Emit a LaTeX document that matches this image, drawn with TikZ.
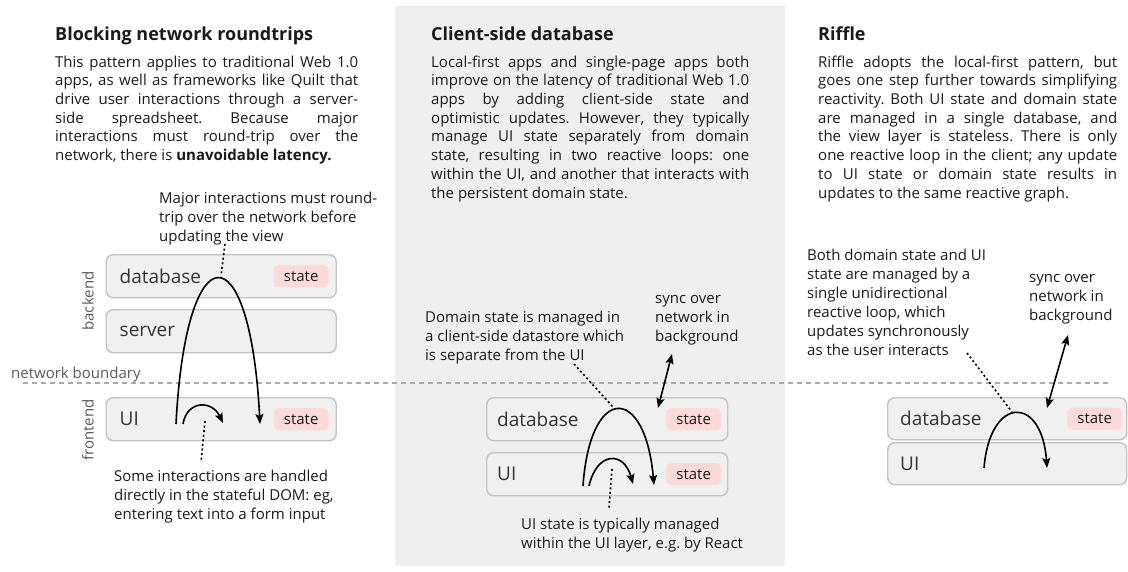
\documentclass[tikz,border=0pt]{standalone}
\usepackage{fontspec}
\setmainfont{Open Sans}
\usetikzlibrary{arrows.meta}
\frenchspacing

\definecolor{panel}{HTML}{EFEFEF}
\definecolor{boxfill}{HTML}{F0F0F0}
\definecolor{boxline}{HTML}{C4C4C4}
\definecolor{badgefill}{HTML}{FDDADA}
\definecolor{labelgray}{HTML}{5A5A5A}
\definecolor{ink}{HTML}{1A1A1A}
\definecolor{boxtextcol}{HTML}{333333}
\definecolor{boundary}{HTML}{AAAAAA}

% one justified line of a paragraph column
\newcommand\jline[2]{\makebox[#1][s]{#2}}

\tikzset{
  heading/.style={font=\bfseries\fontsize{18}{22}\selectfont, text=ink, inner sep=0pt, anchor=north west},
  bodytext/.style={font=\fontsize{15}{18.7}\selectfont, text=ink, inner sep=0pt, anchor=north west, align=left},
  annot/.style={font=\fontsize{15}{19}\selectfont, text=ink, inner sep=0pt, anchor=north west, align=left},
  layerbox/.style={draw=boxline, line width=1.4pt, fill=boxfill, rounded corners=7pt,
    minimum height=43pt, inner sep=0pt, anchor=north west},
  layertext/.style={font=\fontsize{19}{21}\selectfont, text=boxtextcol, inner sep=0pt, anchor=west},
  statebadge/.style={fill=badgefill, rounded corners=5pt, minimum width=55pt, minimum height=22pt,
    inner sep=0pt, font=\fontsize{15}{17}\selectfont, text=ink, anchor=east},
  sidelabel/.style={font=\fontsize{15}{17}\selectfont, text=labelgray, inner sep=0pt, rotate=90},
  flow/.style={line width=1.6pt, draw=black, -{Stealth[length=10pt,width=8pt,inset=2pt]}},
  syncflow/.style={line width=1.6pt, draw=black,
    {Stealth[length=10pt,width=8pt,inset=2pt]}-{Stealth[length=10pt,width=8pt,inset=2pt]}},
  pointer/.style={line width=1.6pt, draw=black, dash pattern=on 2pt off 2.6pt},
}

\begin{document}
\begin{tikzpicture}[x=1pt,y=-1pt]
\useasboundingbox (0,0) rectangle (1128,571);
\fill[white] (0,0) rectangle (1128,571);
% middle column background
\fill[panel] (395,6) rectangle (785,566);

% ---------- headings ----------
\node[heading] (h1) at (55,27) {Blocking network roundtrips};
\node[heading] (h2) at (431,27) {Client-side database};
\node[heading] (h3) at (818,27) {Riffle};

% ---------- column texts ----------
\node[bodytext] (t1) at (55,55.5) {%
\jline{303pt}{This pattern applies to traditional Web 1.0}\\
\jline{303pt}{apps, as well as frameworks like Quilt that}\\
\jline{303pt}{drive user interactions through a server-}\\
\jline{303pt}{side spreadsheet. Because major}\\
\jline{303pt}{interactions must round-trip over the}\\
network, there is \textbf{unavoidable latency.}};

\node[bodytext] (t2) at (431,55.5) {%
\jline{318pt}{Local-first apps and single-page apps both}\\
\jline{318pt}{improve on the latency of traditional Web 1.0}\\
\jline{318pt}{apps by adding client-side state and}\\
\jline{318pt}{optimistic updates. However, they typically}\\
\jline{318pt}{manage UI state separately from domain}\\
\jline{318pt}{state, resulting in two reactive loops: one}\\
\jline{318pt}{within the UI, and another that interacts with}\\
the persistent domain state.};

\node[bodytext] (t3) at (818,55.5) {%
\jline{299pt}{Riffle adopts the local-first pattern, but}\\
\jline{299pt}{goes one step further towards simplifying}\\
\jline{299pt}{reactivity. Both UI state and domain state}\\
\jline{299pt}{are managed in a single database, and}\\
\jline{299pt}{the view layer is stateless. There is only}\\
\jline{299pt}{one reactive loop in the client; any update}\\
\jline{299pt}{to UI state or domain state results in}\\
updates to the same reactive graph.};

% ---------- network boundary ----------
\node[font=\fontsize{15}{17}\selectfont, text=labelgray, inner sep=0pt, anchor=west] (nb) at (11,375) {network boundary};
\coordinate (nbL) at (23,383);
\coordinate (nbR) at (1110,383);
\draw[boundary, line width=1.2pt, dash pattern=on 5pt off 4pt] (nbL) -- (nbR);

% ---------- column 1: blocking roundtrips ----------
\node[sidelabel] (be) at (88,301) {backend};
\node[sidelabel] (fe) at (88,430) {frontend};

\node[layerbox, minimum width=230pt] (db1) at (105.5,254) {};
\node[layertext] (db1t) at ([xshift=14pt]db1.west) {database};
\node[statebadge] (db1s) at ([xshift=-8pt]db1.east) {state};

\node[layerbox, minimum width=230pt] (sv1) at (105.5,309) {};
\node[layertext] (sv1t) at ([xshift=14pt]sv1.west) {server};

\node[layerbox, minimum width=230pt] (ui1) at (105.5,397) {};
\node[layertext] (ui1t) at ([xshift=14pt]ui1.west) {UI};
\node[statebadge] (ui1s) at ([xshift=-8pt]ui1.east) {state};

\coordinate (r1a) at (176,424);
\coordinate (r1b) at (260,424);
\draw[flow] (r1a) .. controls (186,230) and (250,230) .. (r1b);
\coordinate (l1a) at (183,424);
\coordinate (l1b) at (223,423);
\draw[flow] (l1a) .. controls (187,400) and (212,400) .. (l1b);

\node[annot] (a1) at (159,192) {Major interactions must round-\\trip over the network before\\updating the view};
\coordinate (p1a) at (225,244);
\coordinate (p1b) at (221,276);
\draw[pointer] (p1a) -- (p1b);

\coordinate (p2a) at (205,421);
\coordinate (p2b) at (201,462);
\draw[pointer] (p2a) -- (p2b);
\node[annot] (a2) at (114,470) {Some interactions are handled\\directly in the stateful DOM: eg,\\entering text into a form input};

% ---------- column 2: client-side database ----------
\node[layerbox, minimum width=241pt] (db2) at (486,397) {};
\node[layertext] (db2t) at ([xshift=11pt]db2.west) {database};
\node[statebadge] (db2s) at ([xshift=-7pt]db2.east) {state};

\node[layerbox, minimum width=241pt] (ui2) at (486,452) {};
\node[layertext] (ui2t) at ([xshift=11pt]ui2.west) {UI};
\node[statebadge] (ui2s) at ([xshift=-7pt]ui2.east) {state};

\coordinate (r2a) at (583,486);
\coordinate (r2b) at (654,485);
\draw[flow] (r2a) .. controls (590,384) and (645,384) .. (r2b);
\coordinate (l2a) at (589,486);
\coordinate (l2b) at (633,484);
\draw[flow] (l2a) .. controls (597,451) and (624,451) .. (l2b);

\node[annot] (a3) at (425,310.5) {Domain state is managed in\\a client-side datastore which\\is separate from the UI};
\coordinate (p3a) at (574,364);
\coordinate (p3b) at (613,407);
\draw[pointer] (p3a) -- (p3b);

\node[annot] (a4) at (655,295.5) {sync over\\network in\\background};
\coordinate (s2a) at (672,354);
\coordinate (s2b) at (658,408);
\draw[syncflow] (s2a) -- (s2b);

\coordinate (p4a) at (612,469);
\coordinate (p4b) at (609,508);
\draw[pointer] (p4a) -- (p4b);
\node[annot] (a5) at (521,517.5) {UI state is typically managed\\within the UI layer, e.g. by React};

% ---------- column 3: riffle ----------
\node[layerbox, minimum width=239pt, minimum height=42pt] (db3) at (887,397) {};
\node[layertext] (db3t) at ([xshift=13pt]db3.west) {database};
\node[statebadge] (db3s) at ([xshift=-5pt]db3.east) {state};

\node[layerbox, minimum width=239pt, minimum height=42pt] (ui3) at (887,442) {};
\node[layertext] (ui3t) at ([xshift=13pt]ui3.west) {UI};

\coordinate (r3a) at (984,468);
\coordinate (r3b) at (1047,468);
\draw[flow] (r3a) .. controls (990,395) and (1042,395) .. (r3b);

\node[annot] (a6) at (807,248.5) {Both domain state and UI\\state are managed by a\\single unidirectional\\reactive loop, which\\updates synchronously\\as the user interacts};
\coordinate (p5a) at (967,353);
\coordinate (p5b) at (1012,412);
\draw[pointer] (p5a) -- (p5b);

\node[annot] (a7) at (1029,274.5) {sync over\\network in\\background};
\coordinate (s3a) at (1068,335);
\coordinate (s3b) at (1047,408);
\draw[syncflow] (s3a) -- (s3b);
\end{tikzpicture}
\end{document}
